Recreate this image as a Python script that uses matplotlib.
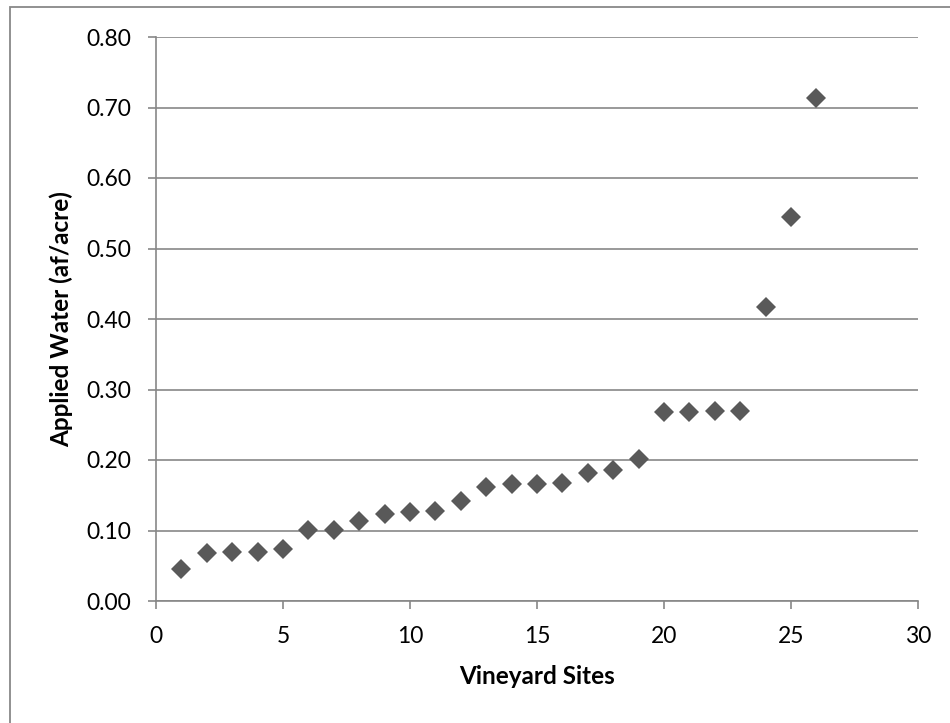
import numpy as np
import matplotlib.pyplot as plt
from matplotlib.patches import Rectangle

# data
sites = np.arange(1, 27)
applied_water = [0.046, 0.068, 0.069, 0.070, 0.074, 0.101, 0.101, 0.113, 0.123,
                 0.126, 0.128, 0.142, 0.162, 0.166, 0.166, 0.167, 0.182, 0.186,
                 0.202, 0.268, 0.268, 0.269, 0.270, 0.417, 0.545, 0.714]
x_ticks = [0, 5, 10, 15, 20, 25, 30]
y_ticks = [0.0, 0.1, 0.2, 0.3, 0.4, 0.5, 0.6, 0.7, 0.8]

plt.rcParams['font.family'] = ['Lato', 'DejaVu Sans']

W, H = 950, 723
fig = plt.figure(figsize=(W / 100, H / 100), dpi=100)
ax = fig.add_axes([156 / W, 1 - 601 / H, (918 - 156) / W, (601 - 37) / H])

# outer chart frame (cut off at right and bottom in the original)
fig.patches.append(Rectangle((10 / W, -0.1), 1.2, 1.1 - 7 / H,
                             transform=fig.transFigure, fill=False,
                             edgecolor='#888888', linewidth=1.3))

ax.plot(sites, applied_water, linestyle='none', marker='D', markersize=10,
        color='#595959', markeredgewidth=0, zorder=3)

ax.set_xlim(0, 30)
ax.set_ylim(0, 0.8)
ax.set_xticks(x_ticks)
ax.set_yticks(y_ticks)
ax.set_yticklabels([f"{v:.2f}" for v in y_ticks])

ax.grid(axis='y', color='#878787', linewidth=1.2)
ax.set_axisbelow(True)
for s in ['top', 'right']:
    ax.spines[s].set_visible(False)
for s in ['left', 'bottom']:
    ax.spines[s].set_color('#878787')
    ax.spines[s].set_linewidth(1.2)

ax.tick_params(axis='both', direction='out', length=6, width=1.2,
               color='#878787', labelsize=16.5, labelcolor='black')
ax.tick_params(axis='y', pad=12)
ax.tick_params(axis='x', pad=12)

ax.set_xlabel("Vineyard Sites", fontsize=17.5, fontweight='bold', labelpad=13)
ax.set_ylabel("Applied Water (af/acre)", fontsize=17.5, fontweight='bold', labelpad=9)

fig.savefig("out.png", dpi=100)
